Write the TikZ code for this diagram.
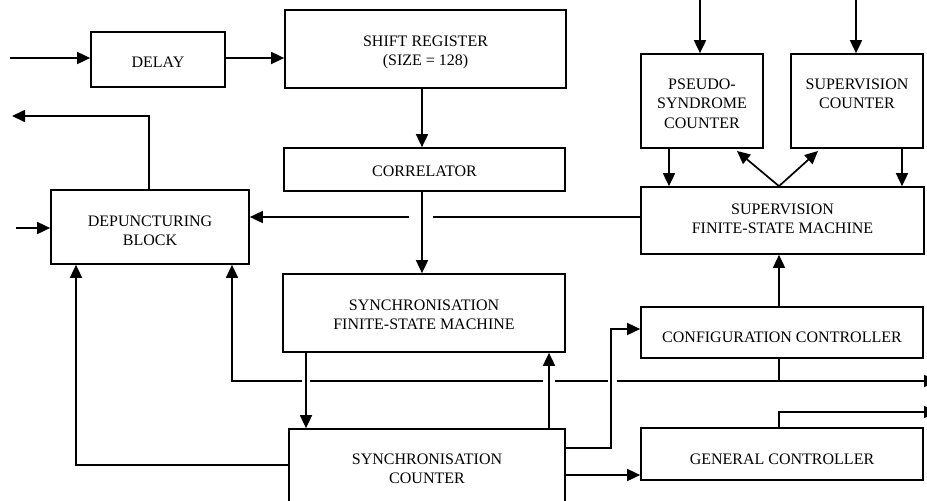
\documentclass[tikz,border=0pt]{standalone}
\usepackage{fontspec}
\setmainfont{Liberation Serif}
\usetikzlibrary{arrows.meta}
\begin{document}
\begin{tikzpicture}[x=1pt,y=-1pt,
  box/.style 2 args={draw,line width=1.7pt,inner sep=0pt,minimum width=#1pt,minimum height=#2pt},
  lbl/.style={font=\fontsize{16}{19.5}\selectfont,align=center,inner sep=0pt,anchor=north},
  ln/.style={line width=1.7pt},
  arr/.style={line width=1.7pt,-{Triangle[length=13pt,width=12pt]}}]
\useasboundingbox (0,0) rectangle (927,501);
\clip (0,0) rectangle (927,501);
% boxes
\node[box={134}{55}] (delay) at (158,59.5) {};
\node[box={281}{78}] (shift) at (425.5,49) {};
\node[box={281}{43}] (corr) at (424.5,169.5) {};
\node[box={198}{74}] (dep) at (150,227) {};
\node[box={282}{78}] (sfsm) at (424,313) {};
\node[box={276}{82}] (scnt) at (427,470) {};
\node[box={122}{94}] (pseudo) at (702,101) {};
\node[box={132}{94}] (supcnt) at (857,101) {};
\node[box={283}{67}] (supfsm) at (782.5,220.5) {};
\node[box={282}{51}] (config) at (782,332.5) {};
\node[box={282}{52}] (gen) at (782,454) {};
% labels
\node[lbl] (delayT) at ([yshift=-25.5pt]delay.north) {DELAY};
\node[lbl] (shiftT) at ([yshift=-26.5pt]shift.north) {SHIFT REGISTER\\(SIZE = 128)};
\node[lbl] (corrT) at ([yshift=-18.5pt]corr.north) {CORRELATOR};
\node[lbl] (depT) at ([yshift=-26.5pt]dep.north) {DEPUNCTURING\\BLOCK};
\node[lbl] (sfsmT) at ([yshift=-26.5pt]sfsm.north) {SYNCHRONISATION\\FINITE-STATE MACHINE};
\node[lbl] (scntT) at ([yshift=-25.5pt]scnt.north) {SYNCHRONISATION\\COUNTER};
\node[lbl] (pseudoT) at ([yshift=-25.5pt]pseudo.north) {PSEUDO-\\SYNDROME\\COUNTER};
\node[lbl] (supcntT) at ([yshift=-25.5pt]supcnt.north) {SUPERVISION\\COUNTER};
\node[lbl] (supfsmT) at ([yshift=-17.5pt]supfsm.north) {SUPERVISION\\FINITE-STATE MACHINE};
\node[lbl] (configT) at ([yshift=-25.5pt]config.north) {CONFIGURATION CONTROLLER};
\node[lbl] (genT) at ([yshift=-26.5pt]gen.north) {GENERAL CONTROLLER};
% coordinates
\coordinate (in1) at (10,58);
\coordinate (cx) at (422,0);
\coordinate (h1) at (0,217);
\coordinate (g1r) at (433,217);
\coordinate (g1l) at (409,217);
\coordinate (dx) at (149,116);
\coordinate (out1) at (12,116);
\coordinate (in2) at (16,228);
\coordinate (c76) at (76,465);
\coordinate (bj) at (779,381);
\coordinate (busR) at (937,381);
\coordinate (b1) at (617,381);
\coordinate (b2) at (608,381);
\coordinate (b3) at (555,381);
\coordinate (b4) at (543,381);
\coordinate (b5) at (310,381);
\coordinate (b6) at (302,381);
\coordinate (b7) at (232,381);
\coordinate (v1) at (306,0);
\coordinate (v2) at (549,0);
\coordinate (k1) at (611,448);
\coordinate (k2) at (611,329);
\coordinate (k3) at (0,475);
\coordinate (m) at (779,0);
\coordinate (k4) at (779,412);
\coordinate (busR2) at (937,412);
\coordinate (p1) at (669,0);
\coordinate (p2) at (902,0);
\coordinate (d1) at (737,151);
\coordinate (d2) at (818,151);
\coordinate (t1) at (700,0);
\coordinate (t2) at (856,0);
% connectors
\draw[arr] (in1) -- (in1 -| delay.west);
\draw[arr] (delay.east |- in1) -- (in1 -| shift.west);
\draw[arr] (shift.south -| cx) -- (corr.north -| cx);
\draw[arr] (corr.south -| cx) -- (sfsm.north -| cx);
\draw[ln] (supfsm.west |- h1) -- (g1r);
\draw[arr] (g1l) -- (dep.east |- h1);
\draw[arr] (dep.north -| dx) -- (dx) -- (out1);
\draw[arr] (in2) -- (in2 -| dep.west);
\draw[arr] (scnt.west |- c76) -- (c76) -- (c76 |- dep.south);
\draw[arr] (config.south -| bj) -- (bj) -- (busR);
\draw[ln] (bj) -- (b1);
\draw[ln] (b2) -- (b3);
\draw[ln] (b4) -- (b5);
\draw[arr] (b6) -- (b7) -- (b7 |- dep.south);
\draw[arr] (sfsm.south -| v1) -- (scnt.north -| v1);
\draw[arr] (scnt.north -| v2) -- (sfsm.south -| v2);
\draw[arr] (scnt.east |- k1) -- (k1) -- (k2) -- (k2 -| config.west);
\draw[arr] (scnt.east |- k3) -- (k3 -| gen.west);
\draw[arr] (config.north -| m) -- (supfsm.south -| m);
\draw[arr] (gen.north -| k4) -- (k4) -- (busR2);
\draw[arr] (pseudo.south -| p1) -- (supfsm.north -| p1);
\draw[arr] (supcnt.south -| p2) -- (supfsm.north -| p2);
\draw[arr] (supfsm.north -| m) -- (d1);
\draw[arr] (supfsm.north -| m) -- (d2);
\draw[arr] (t1) -- (pseudo.north -| t1);
\draw[arr] (t2) -- (supcnt.north -| t2);
\end{tikzpicture}
\end{document}
